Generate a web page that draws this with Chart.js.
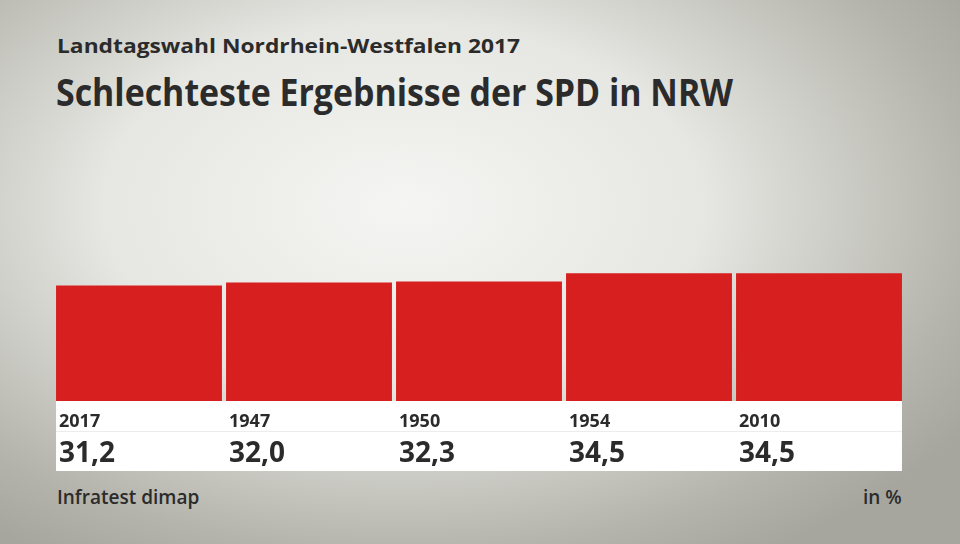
<!DOCTYPE html>
<html>
<head>
<meta charset="utf-8">
<script src="https://cdn.jsdelivr.net/npm/chart.js@4"></script>
<style>
    html, body { margin: 0; padding: 0; }
    body {
        width: 960px; height: 544px; overflow: hidden; position: relative;
        background: radial-gradient(ellipse 70% 75% at 42% 38%, #f5f5f3 0%, #e6e6e2 45%, #b4b4ac 85%, #a6a69e 100%);
        font-family: "Open Sans", "Noto Sans", sans-serif; color: #2b2b2b;
    }
    #chart { position: absolute; left: 0; top: 0; }
    .txt { position: absolute; white-space: nowrap; font-weight: 600; transform-origin: left top; }
    #sub { left: 57px; top: 32px; font-size: 20px; font-weight: 700; }
    #title { left: 56px; top: 66px; font-size: 37px; font-weight: 700; }
    #src { left: 57px; top: 484px; font-size: 19px; }
    #unit { left: 863px; top: 484px; font-size: 19px; }
</style>
</head>
<body>
<div class="txt" id="sub" data-w="463">Landtagswahl Nordrhein-Westfalen 2017</div>
<div class="txt" id="title" data-w="677">Schlechteste Ergebnisse der SPD in NRW</div>
<div class="txt" id="src">Infratest dimap</div>
<div class="txt" id="unit">in %</div>
<canvas id="chart" width="960" height="544"></canvas>
<script>
document.addEventListener("DOMContentLoaded", function() {
    const colorRed = '#d71f1f';
    const colorText = '#2b2b2b';

    const years = ['2017', '1947', '1950', '1954', '2010'];
    const shares = [31.2, 32.0, 32.3, 34.5, 34.5];
    const shareLabels = ['31,2', '32,0', '32,3', '34,5', '34,5'];

    // stretch/squeeze the headings to the widths seen in the original
    document.querySelectorAll('[data-w]').forEach(function(el) {
        const w = el.getBoundingClientRect().width;
        el.style.transform = 'scaleX(' + (parseFloat(el.dataset.w) / w) + ')';
    });

    // white label strip under the bars, with year and value per bar
    const labelStrip = {
        id: 'labelStrip',
        afterDatasetsDraw(chart) {
            const ctx = chart.ctx;
            const bars = chart.getDatasetMeta(0).data;
            const bottom = chart.chartArea.bottom;
            const first = bars[0], last = bars[bars.length - 1];
            const left = first.x - first.width / 2;
            const right = last.x + last.width / 2;
            ctx.save();
            ctx.fillStyle = '#ffffff';
            ctx.fillRect(left, bottom, right - left, 70);
            ctx.fillStyle = '#ececec';
            ctx.fillRect(left, bottom + 30, right - left, 1);
            ctx.fillStyle = colorText;
            ctx.textBaseline = 'alphabetic';
            ctx.textAlign = 'left';
            bars.forEach(function(bar, i) {
                const x = bar.x - bar.width / 2 + 3;
                ctx.font = '700 18px "Open Sans", "Noto Sans", sans-serif';
                ctx.fillText(years[i], x, bottom + 26);
                ctx.font = '700 28px "Open Sans", "Noto Sans", sans-serif';
                ctx.fillText(shareLabels[i], x, bottom + 61);
            });
            ctx.restore();
        }
    };

    const ctx = document.getElementById('chart').getContext('2d');
    new Chart(ctx, {
        type: 'bar',
        data: {
            labels: years,
            datasets: [{
                data: shares,
                backgroundColor: colorRed,
                borderWidth: 0,
                barPercentage: 0.976,
                categoryPercentage: 1.0
            }]
        },
        options: {
            responsive: false,
            animation: false,
            layout: { padding: { left: 54, right: 56, top: 253, bottom: 143 } },
            plugins: { legend: { display: false }, tooltip: { enabled: false } },
            scales: {
                x: { display: false },
                y: { display: false, min: 0, max: 40 }
            }
        },
        plugins: [labelStrip]
    });
});
</script>
</body>
</html>
